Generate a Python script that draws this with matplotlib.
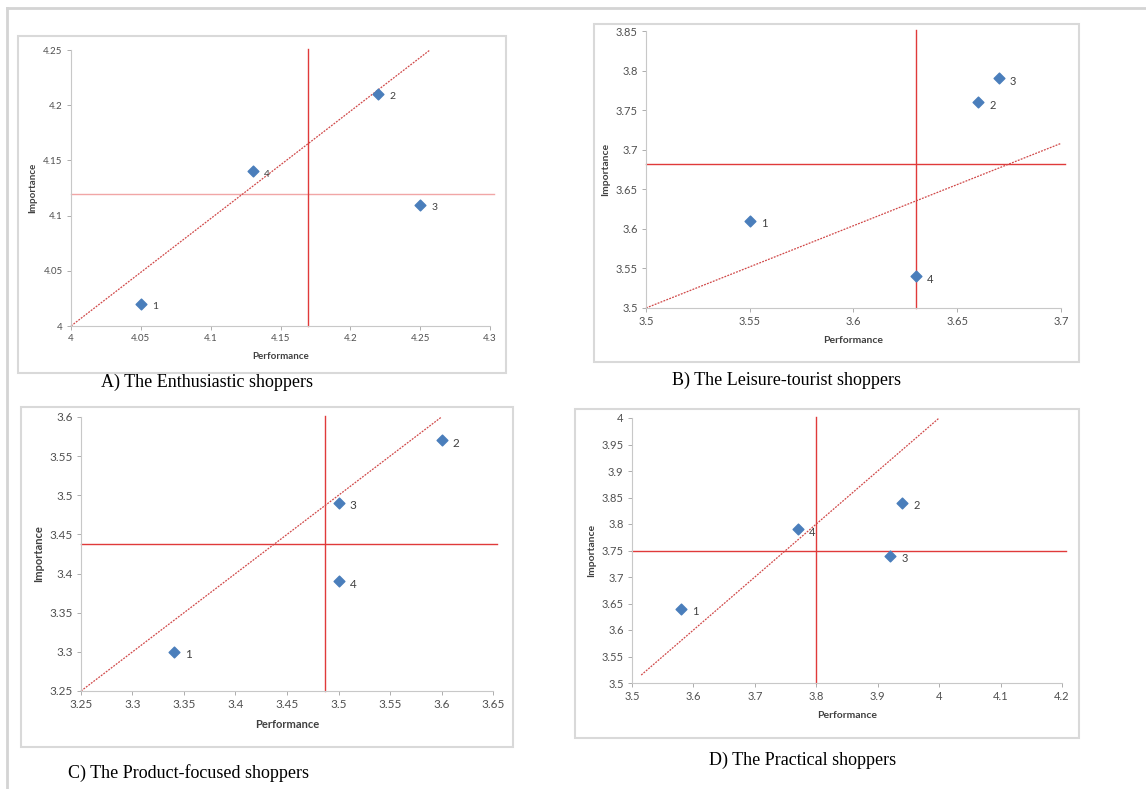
import matplotlib.pyplot as plt
from matplotlib.patches import Rectangle
from matplotlib.lines import Line2D

W, H = 1146, 789

# --- данные четырёх сегментов покупателей ---
titles = ['A) The Enthusiastic shoppers', 'B) The Leisure-tourist shoppers',
          'C) The Product-focused shoppers', 'D) The Practical shoppers']
point_ids = ['1', '2', '3', '4']

perf_a = [4.05, 4.22, 4.25, 4.13]
imp_a = [4.02, 4.21, 4.11, 4.14]
perf_b = [3.55, 3.66, 3.67, 3.63]
imp_b = [3.61, 3.76, 3.79, 3.54]
perf_c = [3.34, 3.60, 3.50, 3.50]
imp_c = [3.30, 3.57, 3.49, 3.39]
perf_d = [3.58, 3.94, 3.92, 3.77]
imp_d = [3.64, 3.84, 3.74, 3.79]

# средние значения (линии квадрантов)
mean_perf = [4.17, 3.63, 3.487, 3.80]
mean_imp = [4.12, 3.682, 3.438, 3.75]

# линии тренда (концы)
trend_x = [[4.0, 4.257], [3.5, 3.7], [3.25, 3.6], [3.515, 4.0]]
trend_y = [[4.0, 4.25], [3.5, 3.708], [3.25, 3.6], [3.515, 4.0]]

# оси
xlims = [(4.0, 4.3), (3.5, 3.7), (3.25, 3.65), (3.5, 4.2)]
ylims = [(4.0, 4.25), (3.5, 3.85), (3.25, 3.6), (3.5, 4.0)]
xticks = [[4, 4.05, 4.1, 4.15, 4.2, 4.25, 4.3],
          [3.5, 3.55, 3.6, 3.65, 3.7],
          [3.25, 3.3, 3.35, 3.4, 3.45, 3.5, 3.55, 3.6, 3.65],
          [3.5, 3.6, 3.7, 3.8, 3.9, 4, 4.1, 4.2]]
yticks = [[4, 4.05, 4.1, 4.15, 4.2, 4.25],
          [3.5, 3.55, 3.6, 3.65, 3.7, 3.75, 3.8, 3.85],
          [3.25, 3.3, 3.35, 3.4, 3.45, 3.5, 3.55, 3.6],
          [3.5, 3.55, 3.6, 3.65, 3.7, 3.75, 3.8, 3.85, 3.9, 3.95, 4]]

perf = [perf_a, perf_b, perf_c, perf_d]
imp = [imp_a, imp_b, imp_c, imp_d]

# расположение в пикселях: (left, top, right, bottom)
ax_px = [(71, 50, 490, 326), (646, 31, 1061, 308),
         (81, 417, 493, 691), (632, 418, 1062, 683)]
frame_px = [(18, 36, 506, 373), (594, 24, 1079, 362),
            (21, 407, 513, 747), (575, 409, 1079, 738)]
caption_xy = [(207, 382), (786, 380), (189, 773), (803, 760)]
tick_fs = [7, 8, 8.5, 8]
label_fs = [7, 7.5, 8, 7.5]
hline_alpha = [0.45, 1, 1, 1]


def rect(px):
    l, t, r, b = px
    return [l / W, 1 - b / H, (r - l) / W, (b - t) / H]


def fmt(v):
    return ('%.2f' % v).rstrip('0').rstrip('.')


fig = plt.figure(figsize=(W / 100, H / 100), dpi=100)
fig.patch.set_facecolor('white')

# внешняя рамка (только сверху и слева)
fig.add_artist(Line2D([7 / W, 1], [1 - 8 / H, 1 - 8 / H], color='#d4d4d4', lw=2))
fig.add_artist(Line2D([7 / W, 7 / W], [0, 1 - 8 / H], color='#d4d4d4', lw=2))

for i in range(4):
    fl, ft, fr, fb = frame_px[i]
    fig.add_artist(Rectangle((fl / W, 1 - fb / H), (fr - fl) / W, (fb - ft) / H,
                             transform=fig.transFigure, fill=False,
                             edgecolor='#d9d9d9', lw=1.5))

    ax = fig.add_axes(rect(ax_px[i]))
    ax.set_xlim(*xlims[i])
    ax.set_ylim(*ylims[i])
    ax.set_xticks(xticks[i])
    ax.set_yticks(yticks[i])
    ax.set_xticklabels([fmt(v) for v in xticks[i]])
    ax.set_yticklabels([fmt(v) for v in yticks[i]])
    for s in ['top', 'right']:
        ax.spines[s].set_visible(False)
    for s in ['bottom', 'left']:
        ax.spines[s].set_color('#c8c8c8')
        ax.spines[s].set_linewidth(0.8)
    ax.tick_params(length=3, width=0.6, color='#a0a0a0', labelcolor='#505050',
                   labelsize=tick_fs[i], pad=3)
    for lab in ax.get_xticklabels() + ax.get_yticklabels():
        lab.set_family('Lato')

    ax.axhline(mean_imp[i], xmax=1.01, color='#e03a3a', lw=1.0,
               alpha=hline_alpha[i], clip_on=False, zorder=2)
    ax.axvline(mean_perf[i], ymax=1.005, color='#e03a3a', lw=1.0,
               clip_on=False, zorder=2)
    ax.plot(trend_x[i], trend_y[i], color='#d04848', lw=0.9,
            linestyle=(0, (1.5, 1)), clip_on=False, zorder=2)

    ax.scatter(perf[i], imp[i], marker='D', s=30, color='#4a7ebb', zorder=3)
    for x, y, t in zip(perf[i], imp[i], point_ids):
        ax.annotate(t, (x, y), xytext=(8, -2), textcoords='offset points',
                    fontsize=label_fs[i] + 0.5, color='#404040', family='Lato',
                    va='center')

    ax.set_xlabel('Performance', fontsize=label_fs[i], fontweight='bold',
                  color='#404040', family='Lato', labelpad=6)
    ax.set_ylabel('Importance', fontsize=label_fs[i], fontweight='bold',
                  color='#404040', family='Lato', labelpad=4)

    cx, cy = caption_xy[i]
    fig.text(cx / W, 1 - cy / H, titles[i], ha='center', va='center',
             fontsize=13, family='Liberation Serif', color='black')

fig.savefig('out.png', dpi=100)
